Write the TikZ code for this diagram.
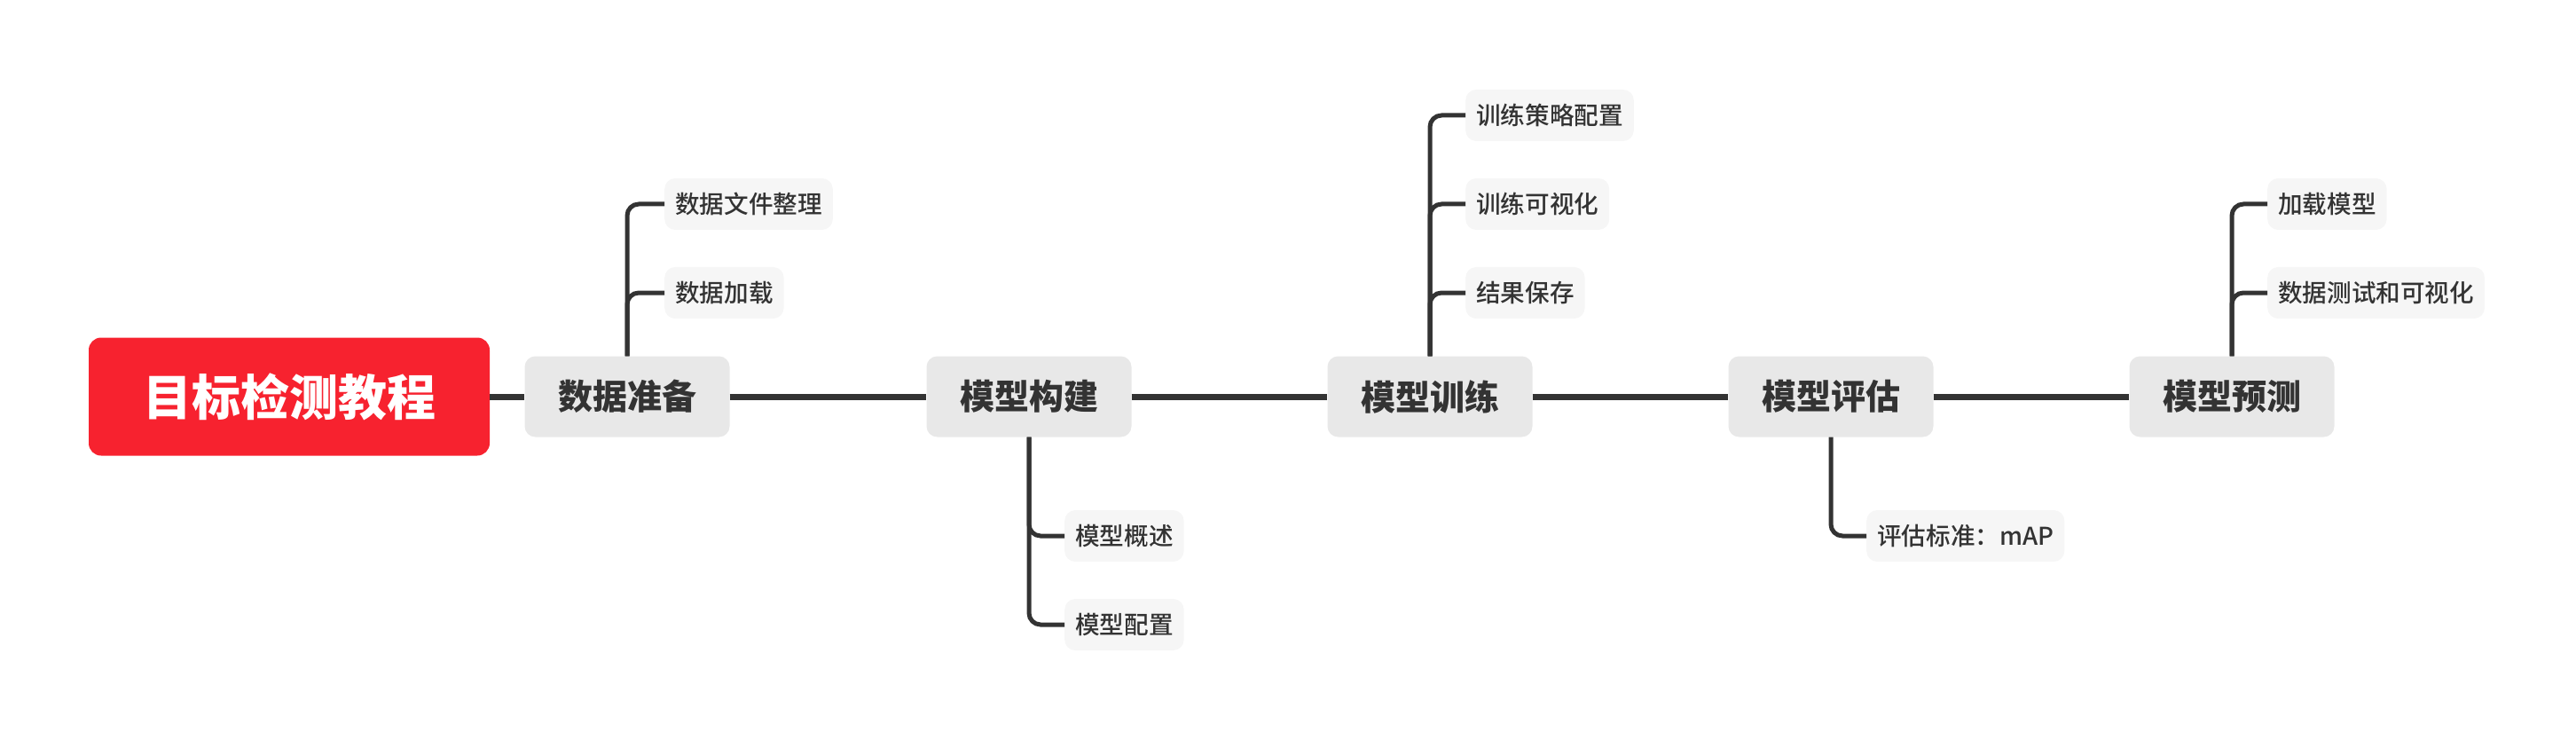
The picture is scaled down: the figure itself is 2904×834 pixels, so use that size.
\documentclass[tikz,border=0pt]{standalone}
\usepackage{fontspec}
\setmainfont{Noto Sans CJK SC}
\newfontfamily\subfont{Noto Sans CJK SC Medium}
\definecolor{rootred}{HTML}{F7222F}
\definecolor{mainfill}{HTML}{E8E8E8}
\definecolor{subfill}{HTML}{F6F6F6}
\definecolor{ink}{HTML}{333333}
\tikzset{
 rootbox/.style={fill=rootred, rounded corners=14pt, minimum width=452pt, minimum height=133pt, text=white, font=\fontsize{55}{60}\selectfont\bfseries, inner sep=0pt},
 mainbox/.style={fill=mainfill, rounded corners=12pt, minimum width=231pt, minimum height=91pt, text=ink, font=\fontsize{39}{44}\selectfont\bfseries, inner sep=0pt},
 subbox/.style={fill=subfill, rounded corners=12pt, minimum height=58pt, inner xsep=12pt, inner ysep=0pt, text=ink, font=\subfont\fontsize{27.6}{30}\selectfont, anchor=west},
 mainline/.style={draw=ink, line width=7pt},
 branch/.style={draw=ink, line width=5pt, rounded corners=13pt},
}
\begin{document}
\begin{tikzpicture}[x=1pt,y=-1pt]
\useasboundingbox (0,0) rectangle (2904,834);
\node[rootbox] (root) at (326,447) {目标检测教程};
\node[mainbox] (n1) at (707,447) {数据准备};
\node[mainbox] (n2) at (1160,447) {模型构建};
\node[mainbox] (n3) at (1612,447) {模型训练};
\node[mainbox] (n4) at (2064,447) {模型评估};
\node[mainbox] (n5) at (2516,447) {模型预测};

\node[subbox] (s11) at (749,230) {数据文件整理};
\node[subbox] (s12) at (749,330) {数据加载};
\node[subbox] (s21) at (1200,604) {模型概述};
\node[subbox] (s22) at (1200,704) {模型配置};
\node[subbox] (s31) at (1652,130) {训练策略配置};
\node[subbox] (s32) at (1652,230) {训练可视化};
\node[subbox] (s33) at (1652,330) {结果保存};
\node[subbox] (s41) at (2104,604) {评估标准：mAP};
\node[subbox] (s51) at (2556,230) {加载模型};
\node[subbox] (s52) at (2556,330) {数据测试和可视化};

\draw[mainline] (root.east) -- (n1.west);
\draw[mainline] (n1.east) -- (n2.west);
\draw[mainline] (n2.east) -- (n3.west);
\draw[mainline] (n3.east) -- (n4.west);
\draw[mainline] (n4.east) -- (n5.west);

\draw[branch] (n1.north) |- (s11.west);
\draw[branch] (n1.north) |- (s12.west);
\draw[branch] (n2.south) |- (s21.west);
\draw[branch] (n2.south) |- (s22.west);
\draw[branch] (n3.north) |- (s31.west);
\draw[branch] (n3.north) |- (s32.west);
\draw[branch] (n3.north) |- (s33.west);
\draw[branch] (n4.south) |- (s41.west);
\draw[branch] (n5.north) |- (s51.west);
\draw[branch] (n5.north) |- (s52.west);
\end{tikzpicture}
\end{document}
